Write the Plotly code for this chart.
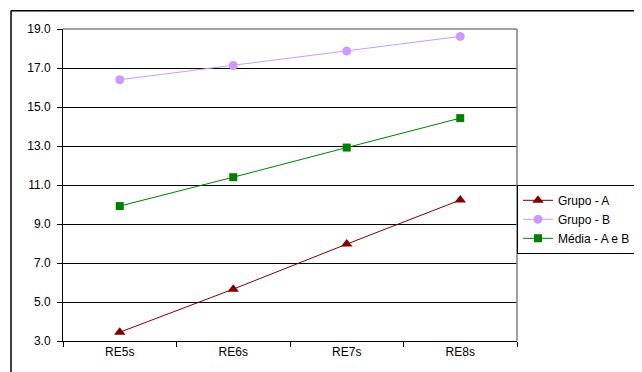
import plotly.graph_objects as go

categories = ["RE5s", "RE6s", "RE7s", "RE8s"]
grupo_a = [3.45, 5.66, 7.97, 10.23]
grupo_b = [16.40, 17.13, 17.87, 18.62]
media_ab = [9.92, 11.40, 12.92, 14.43]
y_ticks = [3.0, 5.0, 7.0, 9.0, 11.0, 13.0, 15.0, 17.0, 19.0]
y_tick_labels = [f"{v:.1f}" for v in y_ticks]

font_family = "Liberation Sans, Arial, sans-serif"

fig = go.Figure()
fig.add_trace(go.Scatter(
    x=categories, y=grupo_a, name="Grupo - A", mode="lines+markers",
    line=dict(color="#800000", width=1),
    marker=dict(symbol="triangle-up", size=10, color="#800000"),
))
fig.add_trace(go.Scatter(
    x=categories, y=grupo_b, name="Grupo - B", mode="lines+markers",
    line=dict(color="#CC99FF", width=1),
    marker=dict(symbol="circle", size=9, color="#CC99FF"),
))
fig.add_trace(go.Scatter(
    x=categories, y=media_ab, name="Média - A e B", mode="lines+markers",
    line=dict(color="#008000", width=1),
    marker=dict(symbol="square", size=8, color="#008000"),
))

shapes = []
# outer chart border (left and top edges; right/bottom lie outside the view)
bx0, by1 = -0.1145, 1.0588
shapes.append(dict(type="line", xref="paper", yref="paper", x0=bx0, x1=bx0, y0=-0.2, y1=by1,
                   line=dict(color="black", width=1.5), layer="above"))
shapes.append(dict(type="line", xref="paper", yref="paper", x0=bx0, x1=1.4, y0=by1, y1=by1,
                   line=dict(color="black", width=1.5), layer="above"))
# plot area border (gray top/right)
shapes.append(dict(type="line", xref="paper", yref="paper", x0=0, x1=1, y0=1, y1=1,
                   line=dict(color="#808080", width=1.5), layer="above"))
shapes.append(dict(type="line", xref="paper", yref="paper", x0=1, x1=1, y0=0, y1=1,
                   line=dict(color="#808080", width=1.5), layer="above"))

fig.update_layout(
    width=634, height=364,
    margin=dict(l=55, r=125, t=21, b=31, autoexpand=False),
    paper_bgcolor="white", plot_bgcolor="white",
    font=dict(family=font_family, size=12, color="black"),
    shapes=shapes,
    showlegend=True,
    legend=dict(
        x=1.0, y=0.39, xanchor="left", yanchor="middle",
        bordercolor="black", borderwidth=1, bgcolor="white",
        font=dict(family=font_family, size=12, color="black"),
        tracegroupgap=0, itemwidth=30,
    ),
    xaxis=dict(
        type="category", range=[-0.5, 3.5], showgrid=False,
        showline=True, linecolor="black", linewidth=1,
        ticks="outside", tickson="boundaries", ticklen=5, tickcolor="black",
        tickfont=dict(size=12),
    ),
    yaxis=dict(
        range=[3, 19], tickvals=y_ticks, ticktext=y_tick_labels,
        showgrid=True, gridcolor="black", gridwidth=1, zeroline=False,
        showline=True, linecolor="black", linewidth=1,
        ticks="outside", ticklen=5, tickcolor="black",
        ticklabelstandoff=4,
        tickfont=dict(size=12),
    ),
)

fig.write_html("out.html")
